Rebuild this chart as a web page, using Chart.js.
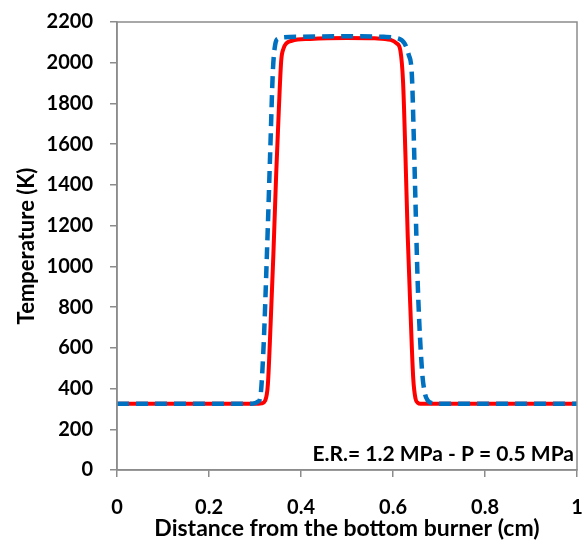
<!DOCTYPE html>
<html>
<head>
<meta charset="utf-8">
<script src="https://cdn.jsdelivr.net/npm/chart.js@4.4.1/dist/chart.umd.min.js"></script>
<style>
    html, body { margin: 0; padding: 0; background: #fff; }
    canvas { display: block; }
</style>
</head>
<body>
<canvas id="tempChart" width="584" height="545"></canvas>
<script>
// Distance (cm) and temperature (K)
const dashedDistance = [0, 0.29, 0.300, 0.306, 0.311, 0.318, 0.326, 0.333, 0.339, 0.344, 0.350, 0.36, 0.40, 0.5, 0.58, 0.61, 0.625, 0.634, 0.641, 0.645, 0.648, 0.654, 0.663, 0.669, 0.676, 0.685, 0.70, 1];
const dashedTemp = [325, 325, 328, 335, 350, 575, 1066, 1557, 1965, 2090, 2118, 2125, 2128, 2130, 2127, 2120, 2095, 2040, 1940, 1650, 1390, 900, 491, 380, 340, 328, 325, 325];

const solidDistance = [0, 0.30, 0.315, 0.322, 0.328, 0.334, 0.340, 0.346, 0.352, 0.357, 0.362, 0.368, 0.38, 0.42, 0.5, 0.56, 0.595, 0.608, 0.616, 0.622, 0.627, 0.632, 0.638, 0.644, 0.649, 0.654, 0.66, 0.68, 1];
const solidTemp = [325, 325, 328, 340, 420, 720, 1060, 1450, 1780, 2010, 2070, 2095, 2108, 2117, 2122, 2120, 2112, 2095, 2060, 1900, 1550, 1150, 780, 450, 350, 330, 325, 325, 325];

const xTicks = [0, 0.2, 0.4, 0.6, 0.8, 1];
const yTicks = [0, 200, 400, 600, 800, 1000, 1200, 1400, 1600, 1800, 2000, 2200];
const noteText = 'E.R.= 1.2 MPa - P = 0.5 MPa';

function toPoints(xs, ys) {
    return xs.map(function(x, i) {
        return { x: x, y: ys[i] };
    });
}

// the tick padding would otherwise be added to the chart area edges
function clearScalePadding(scale) {
    scale.paddingLeft = 0;
    scale.paddingRight = 0;
    scale.paddingTop = 0;
    scale.paddingBottom = 0;
}

const frameAndNote = {
    id: 'frameAndNote',
    afterDraw: function(chart) {
        const ctx = chart.ctx;
        const area = chart.chartArea;
        ctx.save();
        ctx.strokeStyle = '#8c8c8c';
        ctx.lineWidth = 1.5;
        ctx.strokeRect(area.left, area.top, area.right - area.left, area.bottom - area.top);
        ctx.fillStyle = '#000';
        ctx.font = 'bold 21px Lato';
        ctx.textAlign = 'right';
        ctx.textBaseline = 'middle';
        ctx.fillText(noteText, area.right - 3, 454);
        ctx.restore();
    }
};

const tickFont = { family: 'Lato', size: 20, weight: 'bold' };

new Chart(document.getElementById('tempChart'), {
    type: 'scatter',
    data: {
        datasets: [{
            label: 'dashed',
            data: toPoints(dashedDistance, dashedTemp),
            showLine: true,
            borderColor: '#0070c0',
            borderWidth: 4.5,
            borderDash: [12, 7],
            pointRadius: 0,
            cubicInterpolationMode: 'monotone',
            fill: false
        }, {
            label: 'solid',
            data: toPoints(solidDistance, solidTemp),
            showLine: true,
            borderColor: '#ff0000',
            borderWidth: 4,
            pointRadius: 0,
            cubicInterpolationMode: 'monotone',
            fill: false
        }]
    },
    options: {
        responsive: false,
        animation: false,
        devicePixelRatio: 1,
        layout: { padding: { left: 0, right: 7, top: 22, bottom: 0 } },
        plugins: {
            legend: { display: false },
            tooltip: { enabled: false }
        },
        scales: {
            x: {
                type: 'linear',
                min: 0,
                max: 1,
                afterFit: function(scale) {
                    scale.height = 75;
                    clearScalePadding(scale);
                },
                afterBuildTicks: function(scale) {
                    scale.ticks = xTicks.map(function(v) { return { value: v }; });
                },
                border: { display: true, color: '#8c8c8c', width: 1.5 },
                grid: { drawOnChartArea: false, drawTicks: true, tickLength: 7, color: '#8c8c8c', lineWidth: 1.5 },
                ticks: {
                    color: '#000',
                    font: tickFont,
                    padding: 19,
                    maxRotation: 0,
                    callback: function(value) { return String(value); }
                },
                title: {
                    display: true,
                    text: 'Distance from the bottom burner (cm)',
                    color: '#000',
                    font: { family: 'Lato', size: 23, weight: 'bold' },
                    padding: { top: 3, bottom: 3 }
                }
            },
            y: {
                min: 0,
                max: 2200,
                afterFit: function(scale) {
                    scale.width = 117;
                    clearScalePadding(scale);
                },
                afterBuildTicks: function(scale) {
                    scale.ticks = yTicks.map(function(v) { return { value: v }; });
                },
                border: { display: true, color: '#8c8c8c', width: 1.5 },
                grid: { drawOnChartArea: false, drawTicks: true, tickLength: 7, color: '#8c8c8c', lineWidth: 1.5 },
                ticks: {
                    color: '#000',
                    font: tickFont,
                    padding: 17,
                    callback: function(value) { return String(value); }
                },
                title: {
                    display: true,
                    text: 'Temperature (K)',
                    color: '#000',
                    font: { family: 'Lato', size: 22, weight: 'bold' },
                    padding: { top: 14, bottom: 14 }
                }
            }
        }
    },
    plugins: [frameAndNote]
});
</script>
</body>
</html>
